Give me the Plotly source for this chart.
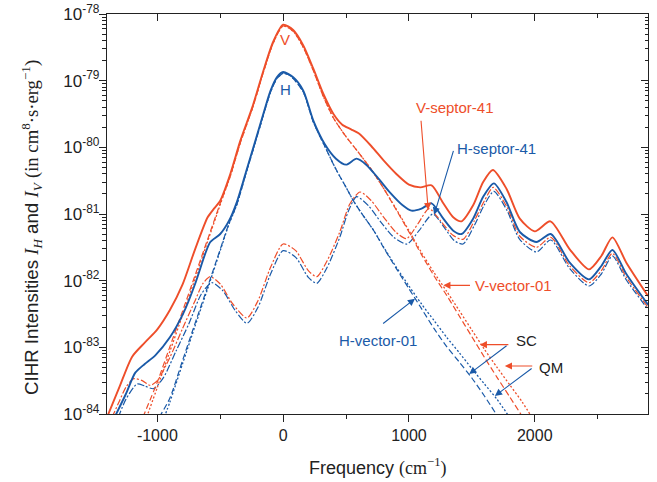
import plotly.graph_objects as go

# ---------------- data: log10 of intensity (cm^8 s erg^-1) vs frequency (cm^-1) ----------------
freq_v_total = [-1400, -1300, -1200, -1100, -1000, -900, -800, -700, -600, -550, -500, -420, -340, -240, -160, -80, 0,
                80, 160, 240, 320, 400, 470, 540, 600, 700, 800, 900, 1000, 1090, 1180, 1273, 1352, 1418, 1510, 1590,
                1667, 1775, 1881, 2000, 2124, 2278, 2431, 2529, 2617, 2728, 2900]
log_v_total = [-84.05, -83.59, -83.14, -82.93, -82.73, -82.44, -82.06, -81.53, -81.05, -80.92, -80.8, -80.4, -79.9,
               -79.37, -78.87, -78.42, -78.16, -78.24, -78.47, -78.82, -79.2, -79.5, -79.66, -79.73, -79.79, -79.98,
               -80.2, -80.4, -80.56, -80.6, -80.57, -80.84, -81.05, -81.11, -80.87, -80.52, -80.34, -80.62, -81.07,
               -81.26, -81.11, -81.53, -81.83, -81.63, -81.35, -81.73, -82.23]

freq_h_total = [-1340, -1250, -1175, -1100, -1016, -900, -791, -700, -620, -579, -500, -430, -368, -300, -222, -150,
                -100, -50, 0, 80, 160, 240, 330, 420, 500, 584, 660, 750, 850, 950, 1020, 1100, 1180, 1273, 1352, 1418,
                1510, 1590, 1675, 1775, 1881, 2013, 2127, 2278, 2431, 2529, 2617, 2728, 2900]
log_h_total = [-84.05, -83.7, -83.38, -83.25, -83.12, -82.85, -82.48, -82.05, -81.6, -81.42, -81.3, -81.1, -80.82,
               -80.4, -79.91, -79.45, -79.15, -78.95, -78.87, -78.95, -79.15, -79.6, -79.95, -80.17, -80.26, -80.17,
               -80.26, -80.45, -80.68, -80.87, -80.95, -80.92, -80.84, -81.07, -81.25, -81.3, -81.07, -80.74, -80.54,
               -80.82, -81.27, -81.42, -81.3, -81.73, -81.98, -81.78, -81.54, -81.9, -82.36]

freq_v_qm = [-1085, -1000, -900, -800, -700, -600, -500, -420, -340, -240, -160, -80, 0, 80, 160, 240, 320, 400, 500,
             600, 700, 800, 900, 1000, 1100, 1200, 1300, 1400, 1500, 1600, 1700, 1800, 1900, 2000]
log_v_qm = [-84.05, -83.6, -83.06, -82.52, -81.97, -81.41, -80.86, -80.43, -79.93, -79.39, -78.89, -78.44, -78.18,
            -78.26, -78.5, -78.85, -79.24, -79.56, -79.84, -80.08, -80.33, -80.62, -80.93, -81.25, -81.58, -81.88,
            -82.16, -82.45, -82.74, -83.03, -83.3, -83.56, -83.82, -84.12]

freq_v_sc = [-1115, -1000, -900, -800, -700, -600, -500, -420, -340, -240, -160, -80, 0, 80, 160, 240, 320, 400, 500,
             600, 700, 800, 900, 1000, 1100, 1200, 1300, 1400, 1500, 1600, 1700, 1800, 1905]
log_v_sc = [-84.05, -83.52, -82.99, -82.46, -81.92, -81.38, -80.84, -80.43, -79.93, -79.39, -78.89, -78.44, -78.18,
            -78.26, -78.5, -78.85, -79.24, -79.56, -79.84, -80.08, -80.33, -80.62, -80.94, -81.27, -81.61, -81.93,
            -82.22, -82.53, -82.84, -83.15, -83.45, -83.74, -84.05]

freq_h_qm = [-945, -900, -800, -700, -600, -500, -430, -368, -300, -222, -150, -100, -50, 0, 60, 160, 240, 330, 420,
             500, 558, 620, 717, 800, 900, 1000, 1100, 1200, 1300, 1400, 1500, 1600, 1700, 1800]
log_h_qm = [-84.05, -83.82, -83.25, -82.68, -82.12, -81.55, -81.15, -80.86, -80.42, -79.93, -79.47, -79.17, -78.97,
            -78.89, -78.93, -79.17, -79.62, -79.98, -80.33, -80.6, -80.8, -80.98, -81.24, -81.5, -81.8, -82.08,
            -82.35, -82.6, -82.85, -83.08, -83.32, -83.55, -83.78, -84.05]

freq_h_sc = [-985, -900, -800, -700, -600, -500, -430, -368, -300, -222, -150, -100, -50, 0, 60, 160, 240, 330, 420,
             500, 558, 620, 717, 800, 900, 1000, 1100, 1200, 1300, 1400, 1500, 1600, 1710]
log_h_sc = [-84.05, -83.76, -83.2, -82.64, -82.09, -81.53, -81.14, -80.86, -80.42, -79.93, -79.47, -79.17, -78.97,
            -78.89, -78.93, -79.17, -79.62, -79.98, -80.33, -80.6, -80.8, -80.98, -81.24, -81.51, -81.82, -82.12,
            -82.42, -82.72, -82.99, -83.22, -83.46, -83.73, -84.05]

freq_v_sep = [-1360, -1300, -1250, -1188, -1120, -1056, -1000, -900, -800, -700, -640, -579, -500, -400, -288, -200,
              -100, 0, 100, 200, 267, 350, 450, 530, 611, 700, 800, 900, 981, 1070, 1160, 1250, 1350, 1430, 1520, 1600,
              1670, 1780, 1880, 2013, 2127, 2278, 2431, 2529, 2617, 2728, 2900]
log_v_sep = [-84.05, -83.8, -83.6, -83.47, -83.5, -83.57, -83.5, -83.15, -82.72, -82.3, -82.05, -81.94, -82.05,
             -82.35, -82.56, -82.3, -81.8, -81.45, -81.55, -81.85, -81.94, -81.7, -81.27, -80.85, -80.67, -80.8,
             -81.05, -81.28, -81.37, -81.15, -80.92, -81.1, -81.32, -81.38, -81.1, -80.8, -80.6, -80.9, -81.33,
             -81.5, -81.35, -81.78, -82.03, -81.85, -81.59, -81.95, -82.4]

freq_h_sep = [-1310, -1250, -1161, -1100, -1029, -950, -850, -750, -650, -566, -480, -380, -288, -200, -100, 0, 100,
              200, 267, 350, 450, 520, 584, 680, 780, 880, 985, 1080, 1190, 1280, 1360, 1430, 1520, 1600, 1675, 1780,
              1880, 2013, 2127, 2278, 2431, 2529, 2617, 2728, 2900]
log_h_sep = [-84.05, -83.78, -83.55, -83.58, -83.62, -83.45, -83.05, -82.65, -82.2, -82.03, -82.15, -82.45, -82.64,
             -82.4, -81.9, -81.55, -81.65, -81.95, -82.04, -81.8, -81.35, -80.95, -80.74, -80.88, -81.13, -81.35,
             -81.45, -81.25, -81.0, -81.2, -81.4, -81.45, -81.17, -80.86, -80.66, -80.95, -81.38, -81.57, -81.39,
             -81.82, -82.08, -81.9, -81.63, -81.99, -82.43]

x_ticks = [-1000, 0, 1000, 2000]
x_ticklabels = ["-1000", "0", "1000", "2000"]
x_minor = [-500, 500, 1500, 2500]
y_exponents = [-84, -83, -82, -81, -80, -79, -78]

# ---------------- styling ----------------
RED = "#EE4E2A"
BLUE = "#1A5AA8"
INK = "#222222"
SANS = "Liberation Sans, Arial, sans-serif"
SERIF = "Liberation Serif"
X_RANGE = [-1400, 2900]
Y_RANGE = [-84, -78]

fig = go.Figure()


def add_curve(freq, logs, color, width, dash):
    fig.add_trace(go.Scatter(
        x=freq, y=[10.0 ** v for v in logs], mode="lines",
        line=dict(color=color, width=width, dash=dash, shape="spline", smoothing=0.7),
        hoverinfo="skip", showlegend=False))


DASH_SC = "6px,3px"
DASH_QM = "2px,2px"
DASH_SEP = "7px,2px,2px,2px"

add_curve(freq_h_sep, log_h_sep, BLUE, 1.2, DASH_SEP)
add_curve(freq_v_sep, log_v_sep, RED, 1.2, DASH_SEP)
add_curve(freq_h_sc, log_h_sc, BLUE, 1.2, DASH_SC)
add_curve(freq_h_qm, log_h_qm, BLUE, 1.3, DASH_QM)
add_curve(freq_v_sc, log_v_sc, RED, 1.2, DASH_SC)
add_curve(freq_v_qm, log_v_qm, RED, 1.3, DASH_QM)
add_curve(freq_h_total, log_h_total, BLUE, 1.9, "solid")
add_curve(freq_v_total, log_v_total, RED, 1.9, "solid")

# dummy trace so the mirrored (inside-tick) axes exist
fig.add_trace(go.Scatter(x=[None], y=[None], xaxis="x2", yaxis="y2", mode="lines",
                         showlegend=False, hoverinfo="skip"))

minor_y = [k * 10.0 ** e for e in y_exponents[:-1] for k in range(2, 10)]
y_tickvals = [10.0 ** e for e in y_exponents]
y_ticktext = ["10<sup>%d</sup>" % e for e in y_exponents]

axis_common = dict(showgrid=False, zeroline=False, tickcolor=INK, tickwidth=1.2, automargin=False)

fig.update_layout(
    width=657, height=482,
    margin=dict(l=107, r=9, t=14, b=68),
    paper_bgcolor="white", plot_bgcolor="white",
    font=dict(family=SANS, color=INK),
    xaxis=dict(range=X_RANGE, tickmode="array", tickvals=x_ticks, ticktext=x_ticklabels,
               ticks="outside", ticklen=7, showline=True, linecolor=INK, linewidth=1.3, mirror=True,
               tickfont=dict(size=16, family=SANS, color=INK), ticklabelstandoff=0,
               minor=dict(tickmode="array", tickvals=x_minor, ticks="outside", ticklen=4,
                          tickcolor=INK, tickwidth=1.2, showgrid=False),
               **axis_common),
    yaxis=dict(type="log", range=Y_RANGE, tickmode="array", tickvals=y_tickvals, ticktext=y_ticktext,
               ticks="outside", ticklen=7, showline=True, linecolor=INK, linewidth=1.3, mirror=True,
               tickfont=dict(size=17, family=SANS, color=INK), ticklabelstandoff=-4,
               minor=dict(tickmode="array", tickvals=minor_y, ticks="outside", ticklen=3.5,
                          tickcolor=INK, tickwidth=1.0, showgrid=False),
               **axis_common),
    xaxis2=dict(overlaying="x", side="top", anchor="y", range=X_RANGE, tickmode="array", tickvals=x_ticks,
                ticks="inside", ticklen=7, showticklabels=False, showline=False,
                minor=dict(tickmode="array", tickvals=x_minor, ticks="inside", ticklen=4,
                           tickcolor=INK, tickwidth=1.2, showgrid=False),
                **axis_common),
    yaxis2=dict(overlaying="y", side="right", anchor="x", type="log", range=Y_RANGE, tickmode="array",
                tickvals=y_tickvals, ticks="inside", ticklen=7, showticklabels=False, showline=False,
                minor=dict(tickmode="array", tickvals=minor_y, ticks="inside", ticklen=3.5,
                           tickcolor=INK, tickwidth=1.0, showgrid=False),
                **axis_common),
)

annotations = []

# axis titles
annotations.append(dict(
    xref="paper", yref="paper", x=0, y=0.5, xshift=-76, yshift=-14, xanchor="center", yanchor="middle",
    textangle=-90, showarrow=False, font=dict(size=18.7, family=SANS, color=INK),
    text=('CIHR Intensities <span style="font-family:%s"><i>I</i><sub><i>H</i></sub></span> and '
          '<span style="font-family:%s"><i>I</i><sub><i>V</i></sub></span> '
          '<span style="font-family:%s">(in cm<sup>8</sup>·s·erg<sup>−1</sup>)</span>') % (SERIF, SERIF, SERIF)))
annotations.append(dict(
    xref="paper", yref="paper", x=0.5, y=0, yshift=-53, xanchor="center", yanchor="middle",
    showarrow=False, font=dict(size=18, family=SANS, color=INK),
    text='Frequency <span style="font-family:%s">(cm<sup>−1</sup>)</span>' % SERIF))

# text labels (positions in data coords; y in log10 units)
labels = [
    ("V", 16, -78.38, RED), ("H", 16, -79.13, BLUE),
    ("V-septor-41", 1365, -79.40, RED), ("H-septor-41", 1696, -80.02, BLUE),
    ("V-vector-01", 1833, -82.07, RED), ("H-vector-01", 754, -82.90, BLUE),
    ("SC", 1934, -82.90, INK), ("QM", 2132, -83.30, INK),
]
for txt, lx, ly, col in labels:
    annotations.append(dict(x=lx, y=ly, xref="x", yref="y", text=txt, showarrow=False,
                            xanchor="center", yanchor="middle", font=dict(size=15, family=SANS, color=col)))

# arrows: (head_x, head_y, tail_x, tail_y, color)
arrows = [
    (1153, -80.94, 1095, -79.58, RED),
    (1201, -81.01, 1357, -80.03, BLUE),
    (1273, -82.07, 1497, -82.07, RED),
    (1048, -82.27, 783, -82.66, BLUE),
    (1563, -82.96, 1802, -82.96, RED),
    (1479, -83.40, 1788, -82.96, BLUE),
    (1762, -83.28, 1992, -83.28, RED),
    (1683, -83.73, 1987, -83.30, BLUE),
]
for hx, hy, tx, ty, col in arrows:
    annotations.append(dict(x=hx, y=hy, ax=tx, ay=ty, xref="x", yref="y", axref="x", ayref="y",
                            text="", showarrow=True, arrowhead=2, arrowsize=1.3, arrowwidth=1.1,
                            arrowcolor=col, standoff=0, startstandoff=0))

fig.update_layout(annotations=annotations)

# remove the page's default body margin so the figure sits at the window origin
fig.write_html("out.html", config={"displayModeBar": False},
               post_script="document.body.style.margin='0';")
